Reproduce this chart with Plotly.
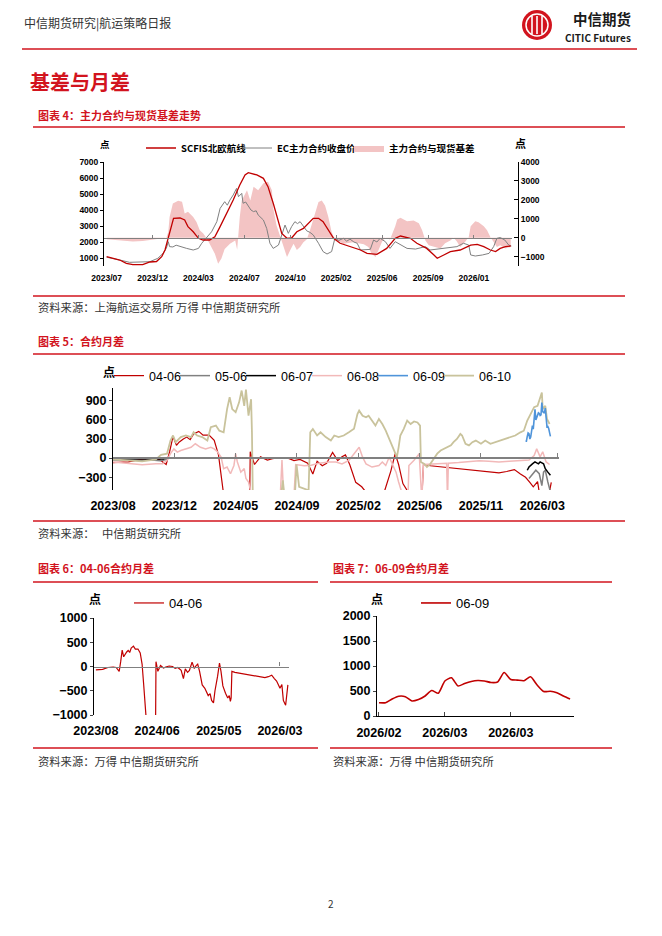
import plotly.graph_objects as go

W, H = 662, 936
OFF = 8  # the page body has an 8px margin, so paper starts 8px in


def px(x):
    return (x - OFF) / W


def py(y):
    return 1 - (y - OFF) / H


CJK = "Noto Sans CJK SC"
NUM = "Liberation Sans"
RED = "#D2141E"
DARK_RED = "#C00000"

# ---------------- 图表4 数据 (x = 交易日序号) ----------------
c4_tickvals = [0, 70, 140, 210, 280, 350, 420, 490, 560]
c4_ticktext = ["2023/07", "2023/12", "2024/03", "2024/07", "2024/10",
               "2025/02", "2025/06", "2025/09", "2026/01"]

scfis = [(0, 1080), (20, 875), (30, 670), (40, 580), (55, 580), (66, 750), (76, 780),
         (84, 1080), (89, 1500), (94, 2230), (99, 3060), (102, 3480), (112, 3500),
         (119, 3375), (124, 2960), (132, 2640), (140, 2230), (147, 2125), (157, 2125),
         (165, 2330), (173, 2960), (183, 3790), (193, 4625), (203, 5560), (211, 6190),
         (216, 6330), (229, 6190), (239, 5980), (246, 5460), (254, 4420), (262, 3270),
         (267, 2540), (275, 2230), (282, 2250), (290, 2640), (300, 2850), (315, 3480),
         (323, 3480), (330, 3270), (338, 2750), (346, 2230), (356, 1920), (371, 1710),
         (387, 1500), (397, 1290), (412, 1230), (427, 1600), (440, 2230), (448, 2375),
         (463, 2230), (473, 1920), (488, 1600), (499, 1190), (504, 980), (514, 1190),
         (524, 1400), (539, 1500), (555, 1810), (565, 1850), (575, 1710), (585, 1500),
         (593, 1400), (600, 1600), (608, 1710), (616, 1750)]

ec_main = [(0, 1050), (10, 980), (20, 875), (35, 730), (50, 770), (66, 770), (78, 980),
           (86, 1290), (91, 1600), (94, 2020), (96, 1710), (101, 1690), (106, 1800),
           (112, 1710), (117, 1650), (122, 1600), (132, 1500), (140, 1600), (145, 1920),
           (152, 2230), (160, 2640), (168, 3270), (173, 4100), (180, 4520), (184, 4300),
           (188, 4625), (193, 4940), (198, 5350), (201, 4830), (206, 5040), (208, 4420),
           (212, 4500), (216, 4210), (220, 4000), (224, 3900), (228, 3950), (231, 3690),
           (235, 3550), (239, 3375), (244, 2850), (249, 1920), (254, 1600), (262, 1810),
           (267, 2440), (272, 3060), (277, 2540), (282, 2960), (287, 3270), (291, 3150),
           (295, 3270), (300, 2960), (305, 2700), (310, 2600), (315, 2440), (323, 1920),
           (330, 1400), (336, 1250), (343, 1400), (348, 2230), (354, 2100), (361, 2230),
           (366, 2050), (371, 2180), (377, 2000), (382, 1920), (387, 1500), (402, 1540),
           (407, 2125), (412, 2000), (417, 2230), (425, 2020), (432, 1600), (440, 2020),
           (448, 1810), (458, 1600), (471, 1560), (486, 1710), (493, 1500), (503, 1550),
           (514, 1600), (524, 1650), (534, 1710), (544, 1920), (552, 1810), (555, 1190),
           (562, 1125), (573, 1190), (583, 1290), (590, 1710), (595, 2230), (600, 2280),
           (607, 2125), (613, 1810), (617, 1750)]

basis = [(0, -80), (20, -150), (40, -200), (55, -180), (66, -120), (76, -60), (84, -20),
         (91, 0), (94, 300), (96, 1090), (101, 1800), (109, 1950), (115, 1900),
         (119, 1270), (124, 1370), (132, 1090), (137, 830), (142, 390), (147, 230),
         (152, 0), (157, -320), (165, -850), (170, -1380), (175, -1100), (180, -600),
         (188, -320), (196, -150), (199, -640), (203, 1090), (206, 1960), (214, 2510),
         (219, 1960), (224, 2690), (231, 2510), (239, 2870), (246, 2960), (252, 2510),
         (254, 1550), (259, 650), (264, 120), (269, -490), (275, -1030), (280, -660),
         (285, -320), (290, -660), (295, -490), (300, -250), (305, -100), (310, 390),
         (318, 1270), (323, 1890), (328, 1960), (333, 1700), (338, 1090), (343, 300),
         (348, -100), (361, -320), (376, -250), (392, -350), (399, -490), (404, -850),
         (410, -1030), (415, -660), (420, -200), (425, 0), (432, -100), (440, 600),
         (443, 960), (448, 1050), (458, 870), (468, 900), (476, 760), (481, 390),
         (486, -150), (491, -400), (499, -490), (509, -580), (516, -300), (524, -150),
         (529, 0), (534, -200), (539, -490), (547, -200), (552, 40), (555, 600),
         (562, 870), (567, 810), (575, 600), (580, 390), (585, 40), (590, -200),
         (595, -490), (600, -400), (608, -580), (616, -490)]

# ---------------- 图表5/6/7 数据 ----------------
c5_tickvals = [0, 71.5, 143, 214.5, 286, 357.5, 429, 500.5]
c5_ticktext = ["2023/08", "2023/12", "2024/05", "2024/09", "2025/02",
               "2025/06", "2025/11", "2026/03"]
c6_tickvals = [0, 163, 327, 490]
c6_ticktext = ["2023/08", "2024/06", "2025/05", "2026/03"]
c7_ticktext = ["2026/02", "2026/03", "2026/03"]

s0406 = [(0, -70), (18, -60), (32, -20), (46, -10), (54, -20), (62, -100), (66, 100),
         (70, 340), (74, 200), (77, 250), (82, 300), (86, 330), (90, 290), (94, 380),
         (100, 420), (105, 360), (112, 360), (118, 280), (123, 50), (127, -350),
         (132, -800), (134, -1050), (136, -1300), (157, -1300), (159, -1050), (160, 100),
         (165, -100), (172, 20), (180, -30), (186, -10), (195, 10), (204, 0), (211, -40),
         (218, -20), (227, -80), (233, -250), (238, -50), (244, -120), (249, -80),
         (256, 90), (262, -40), (267, 20), (271, 50), (276, -100), (283, -380),
         (290, -450), (295, -520), (299, -600), (304, -560), (308, -700), (313, -750),
         (317, -500), (324, -200), (329, 70), (333, -100), (338, -400), (345, -550),
         (351, -650), (355, -600), (358, -720), (360, -650), (362, -100), (370, -120),
         (377, -130), (390, -150), (404, -170), (418, -190), (431, -200), (440, -220),
         (450, -230), (459, -210), (468, -180), (475, -250), (481, -300), (486, -380),
         (490, -450), (495, -370), (499, -700), (505, -800), (511, -380)]

s0506 = [(0, -30), (15, -25), (30, -35), (45, -30), (55, -40), (63, -20), (64, None),
         (485, -320), (489, -245), (493, -190), (497, -245), (500, -430), (502, -220),
         (504, -190), (507, -375), (510, -530)]

s0607 = [(0, -10), (20, -15), (40, -20), (60, -15), (61, None),
         (483, -190), (485, -140), (489, -90), (492, -60), (496, -90), (498, -60),
         (502, -90), (504, -165), (507, -220), (510, -270)]

s0608 = [(0, -60), (19, -90), (34, -105), (50, -90), (58, -90), (63, -35), (67, 70),
         (71, 145), (75, 95), (79, 120), (85, 145), (91, 170), (96, 225), (102, 170),
         (108, 145), (114, 170), (118, 145), (122, 95), (126, 15), (129, -165),
         (133, -140), (137, -245), (141, -115), (143, 70), (145, -60), (149, -220),
         (153, -165), (155, -320), (158, -375), (161, -530), (163, -650), (193, -650),
         (195, -600), (197, -30), (199, -600), (211, -600), (213, -100), (223, -120),
         (231, -110), (240, -80), (252, -60), (260, -60), (267, -90), (275, -35),
         (281, 70), (287, 170), (291, 15), (295, -90), (302, -140), (310, -115),
         (314, -60), (318, -115), (322, 15), (326, -90), (330, -220), (333, -375),
         (335, -480), (337, -550), (341, -650), (344, -600), (345, -115), (351, -35),
         (357, 70), (358.6, -650), (360, -650), (362, -100), (374, -90), (388, -80),
         (389, -80), (390, -650), (391, -80), (403, -70), (415, -50), (427, -40),
         (438, -50), (450, -60), (462, -50), (473, -40), (485, -30), (491, 40),
         (494, 145), (498, 20), (501, 100), (505, -60), (509, -100)]

s0609 = [266, 266, 340, 395, 385, 300, 330, 400, 510, 455, 700, 765, 600, 650, 690,
         710, 700, 670, 680, 870, 730, 718, 705, 784, 620, 490, 495, 465, 400, 340]
s0609_day = list(range(481, 481 + len(s0609)))

s0610 = [(0, -20), (19, -35), (34, -50), (50, -20), (56, 50), (63, 70), (67, 275),
         (70, 355), (73, 250), (79, 330), (85, 355), (91, 330), (94, 405), (98, 355),
         (104, 330), (110, 275), (114, 485), (120, 510), (124, 430), (129, 405),
         (133, 770), (136, 955), (139, 770), (143, 720), (147, 875), (150, 1060),
         (153, 820), (155, 1075), (158, 665), (161, 925), (162, 405), (163, -600),
         (196, -600), (198, -350), (200, -600), (212, -600), (214, -100), (217, -450),
         (223, -480), (227, -500), (228, -520), (230, 405), (233, 455), (238, 355),
         (242, 405), (248, 330), (254, 275), (258, 355), (263, 330), (269, 355),
         (275, 405), (281, 460), (285, 690), (287, 745), (291, 665), (295, 640),
         (298, 665), (302, 590), (306, 510), (310, 615), (314, 535), (318, 430),
         (322, 300), (326, 170), (330, 70), (331, 15), (333, 170), (335, 355),
         (339, 460), (343, 590), (347, 535), (351, 575), (355, 560), (358, 510),
         (359, -60), (363, -90), (366, -140), (370, -90), (374, -10), (378, 70),
         (382, 120), (386, 145), (390, 170), (394, 200), (397, 250), (401, 300),
         (405, 380), (407, 355), (411, 225), (415, 200), (419, 250), (423, 275),
         (429, 225), (434, 275), (440, 225), (446, 250), (452, 275), (458, 300),
         (464, 330), (469, 355), (475, 405), (479, 430), (483, 590), (487, 690),
         (491, 800), (495, 820), (497, 900), (500, 1030), (501, 770), (504, 820),
         (506, 615), (509, 535)]


def xs(pairs):
    return [p[0] for p in pairs]


def ys(pairs):
    return [p[1] for p in pairs]


fig = go.Figure()

# ---- 图表4 ----
fig.add_trace(go.Scatter(x=xs(basis), y=ys(basis), name="主力合约与现货基差",
                         mode="lines", line=dict(width=0, color="#F3C4C4"),
                         fill="tozeroy", fillcolor="#F3C4C4",
                         xaxis="x", yaxis="y", legend="legend", legendrank=3))
fig.add_trace(go.Scatter(x=xs(ec_main), y=ys(ec_main), name="EC主力合约收盘价",
                         mode="lines", line=dict(width=1, color="#808080"),
                         xaxis="x", yaxis="y2", legend="legend", legendrank=2,
                         legendwidth=67))
fig.add_trace(go.Scatter(x=xs(scfis), y=ys(scfis), name="SCFIS北欧航线",
                         mode="lines", line=dict(width=1.3, color=DARK_RED),
                         xaxis="x", yaxis="y2", legend="legend", legendrank=1,
                         legendwidth=51))

# ---- 图表5 ----
c5_series = [("04-06", s0406, DARK_RED, 1.2, 1001),
             ("05-06", s0506, "#808080", 1.5, 1002),
             ("06-07", s0607, "#000000", 1.5, 1003),
             ("06-08", s0608, "#F2B9B9", 1.5, 1004),
             ("06-10", s0610, "#C9C39C", 1.8, 1006)]
for name, data, color, width, rank in c5_series:
    fig.add_trace(go.Scatter(x=xs(data), y=ys(data), name=name, mode="lines",
                             line=dict(width=width, color=color),
                             xaxis="x3", yaxis="y3", legend="legend2",
                             legendrank=rank, legendwidth=45 if rank == 1006 else None))
fig.add_trace(go.Scatter(x=s0609_day, y=s0609, name="06-09", mode="lines",
                         line=dict(width=1.6, color="#4F94DA"),
                         xaxis="x3", yaxis="y3", legend="legend2", legendrank=1005))

# ---- 图表6 ----
fig.add_trace(go.Scatter(x=xs(s0406), y=ys(s0406), name="04-06", mode="lines",
                         line=dict(width=1.2, color=DARK_RED),
                         xaxis="x5", yaxis="y5", legend="legend3"))

# ---- 图表7 ----
fig.add_trace(go.Scatter(x=list(range(len(s0609))), y=s0609, name="06-09",
                         mode="lines", line=dict(width=1.6, color=DARK_RED,
                                                 shape="spline", smoothing=0.6),
                         xaxis="x7", yaxis="y7", legend="legend4"))

# 叠加的零线轴需要一个空 trace 来建立子图
for xa, ya in [("x2", "y"), ("x4", "y3"), ("x6", "y5")]:
    fig.add_trace(go.Scatter(x=[], y=[], xaxis=xa, yaxis=ya, showlegend=False))


def zero_pos(top, bottom, lo, hi):
    return py(bottom - (0 - lo) / (hi - lo) * (bottom - top))


tick_num = dict(family=NUM, size=8.5, color="#000000", weight="bold")
tick_big = dict(family=NUM, size=12.5, color="#000000", weight="bold")

# 版面区域 (像素)
C4 = dict(l=104, r=512, t=162, b=266)
C5 = dict(l=113, r=559, t=388, b=490)
C6 = dict(l=94, r=289, t=618, b=715)
C7 = dict(l=377, r=574, t=616, b=716)
C4_X = [-4, 618]
C5_X = [0, 520]
C6_X = [-5, 514]

axis_common = dict(showgrid=False, zeroline=False, fixedrange=True)
label_axis = dict(showline=False, ticks="outside", ticklen=4,
                  tickcolor="rgba(0,0,0,0)", **axis_common)

fig.update_layout(
    width=W, height=H,
    margin=dict(l=0, r=0, t=0, b=0, pad=0, autoexpand=False),
    paper_bgcolor="white", plot_bgcolor="rgba(0,0,0,0)",
    font=dict(family=CJK, color="#000000"),
    # 图表4
    xaxis=dict(domain=[px(C4["l"]), px(C4["r"])], range=C4_X, anchor="y",
               tickvals=c4_tickvals, ticktext=c4_ticktext, tickfont=tick_num,
               **label_axis),
    xaxis2=dict(overlaying="x", anchor="free", range=C4_X,
                position=zero_pos(C4["t"], C4["b"], -1500, 4000),
                tickvals=c4_tickvals[1:] + [617], showticklabels=False, ticks="inside",
                ticklen=3, tickcolor="#808080", showline=True, linecolor="#808080",
                linewidth=1.2, **axis_common),
    yaxis=dict(domain=[py(C4["b"]), py(C4["t"])], range=[-1500, 4000],
               side="right", anchor="free", position=px(518),
               tickvals=[-1000, 0, 1000, 2000, 3000, 4000], tickfont=tick_num,
               showline=True, linecolor="#000000", linewidth=1, ticks="inside",
               ticklen=4, tickcolor="#000000", **axis_common),
    yaxis2=dict(overlaying="y", side="left", anchor="x", range=[500, 7000],
                tickvals=[1000, 2000, 3000, 4000, 5000, 6000, 7000], tickfont=tick_num,
                showline=True, linecolor="#000000", linewidth=1, ticks="outside",
                ticklen=3, tickcolor="#000000", **axis_common),
    # 图表5
    xaxis3=dict(domain=[px(C5["l"]), px(C5["r"])], range=C5_X, anchor="y3",
                tickvals=c5_tickvals, ticktext=c5_ticktext, tickfont=tick_big,
                **label_axis),
    xaxis4=dict(overlaying="x3", anchor="free", range=C5_X,
                position=zero_pos(C5["t"], C5["b"], -500, 1100),
                tickvals=c5_tickvals[1:-1] + [518], showticklabels=False,
                ticks="inside", ticklen=4, tickcolor="#808080", showline=True,
                linecolor="#808080", linewidth=1.6, **axis_common),
    yaxis3=dict(domain=[py(C5["b"]), py(C5["t"])], range=[-500, 1100], anchor="x3",
                tickvals=[-300, 0, 300, 600, 900], tickfont=tick_big, showline=True,
                linecolor="#000000", linewidth=1, ticks="outside", ticklen=3,
                **axis_common),
    # 图表6
    xaxis5=dict(domain=[px(C6["l"]), px(C6["r"])], range=C6_X, anchor="y5",
                tickvals=c6_tickvals, ticktext=c6_ticktext, tickfont=tick_big,
                **label_axis),
    xaxis6=dict(overlaying="x5", anchor="free", range=C6_X,
                position=zero_pos(C6["t"], C6["b"], -1000, 1000),
                tickvals=[490, 512], showticklabels=False, ticks="inside", ticklen=4,
                tickcolor="#808080", showline=True, linecolor="#808080",
                linewidth=1.3, **axis_common),
    yaxis5=dict(domain=[py(C6["b"]), py(C6["t"])], range=[-1000, 1000], anchor="x5",
                tickvals=[-1000, -500, 0, 500, 1000], tickfont=tick_big,
                showline=True, linecolor="#000000", linewidth=1, ticks="outside",
                ticklen=3, **axis_common),
    # 图表7
    xaxis7=dict(domain=[px(C7["l"]), px(C7["r"])], range=[-0.3, 29.6], anchor="y7",
                tickvals=[0, 10, 20], ticktext=c7_ticktext, tickfont=tick_big,
                showline=True, linecolor="#000000", linewidth=1, ticks="inside",
                ticklen=4, ticklabelstandoff=5, **axis_common),
    yaxis7=dict(domain=[py(C7["b"]), py(C7["t"])], range=[0, 2000], anchor="x7",
                tickvals=[0, 500, 1000, 1500, 2000], tickfont=tick_big,
                showline=True, linecolor="#000000", linewidth=1, ticks="outside",
                ticklen=3, **axis_common),
    legend=dict(orientation="h", x=px(141), y=py(148), xanchor="left",
                yanchor="middle", bgcolor="rgba(0,0,0,0)", itemwidth=30,
                font=dict(family=CJK, size=9.5, weight="bold")),
    legend2=dict(orientation="h", x=px(109), y=py(376), xanchor="left",
                 yanchor="middle", bgcolor="rgba(0,0,0,0)", itemwidth=30,
                 entrywidth=21, font=dict(family=NUM, size=12.5)),
    legend3=dict(orientation="h", x=px(129), y=py(603), xanchor="left",
                 yanchor="middle", bgcolor="rgba(0,0,0,0)", itemwidth=30,
                 font=dict(family=NUM, size=13)),
    legend4=dict(orientation="h", x=px(416), y=py(603), xanchor="left",
                 yanchor="middle", bgcolor="rgba(0,0,0,0)", itemwidth=30,
                 font=dict(family=NUM, size=13)),
)

# ---------------- 文本 ----------------
SRC = 11.3
texts = [
    ("中信期货研究|航运策略日报", 22, 23, 12, "#333333", "normal", "left"),
    ("中信期货", 633, 18.5, 14.5, "#1a1a1a", "bold", "right"),
    ("CITIC Futures", 633, 38, 10, "#1a1a1a", "bold", "right"),
    ("基差与月差", 28, 82, 20, RED, "bold", "left"),
    ("图表 4：主力合约与现货基差走势", 36, 115, 11, RED, "bold", "left"),
    ("资料来源：上海航运交易所 万得 中信期货研究所", 36, 307, SRC, "#333333", "normal", "left"),
    ("图表 5：合约月差", 36, 341, 11, RED, "bold", "left"),
    ("资料来源：   中信期货研究所", 36, 533, SRC, "#333333", "normal", "left"),
    ("图表 6：04-06合约月差", 36, 568, 11, RED, "bold", "left"),
    ("资料来源：万得 中信期货研究所", 36, 761, SRC, "#333333", "normal", "left"),
    ("图表 7：06-09合约月差", 331, 568, 11, RED, "bold", "left"),
    ("资料来源：万得 中信期货研究所", 331, 761, SRC, "#333333", "normal", "left"),
    ("点", 105, 144, 9.5, "#000000", "bold", "center"),
    ("点", 520, 143, 11, "#000000", "bold", "center"),
    ("点", 109, 372, 12, "#000000", "bold", "center"),
    ("点", 95, 598, 12, "#000000", "bold", "center"),
    ("点", 377, 598, 12, "#000000", "bold", "center"),
    ("2", 331, 903, 10, "#333333", "normal", "center"),
]
for txt, x, y, size, color, weight, anchor in texts:
    fig.add_annotation(text=txt, x=px(x), y=py(y), xref="paper", yref="paper",
                       xanchor=anchor, yanchor="middle", showarrow=False,
                       font=dict(family=CJK, size=size, color=color, weight=weight))

# ---------------- 线条与标志 ----------------
rules = [(22, 637, 49, 1.6), (33, 625, 127, 1.3), (33, 625, 296, 1.3),
         (33, 625, 354, 1.3), (33, 625, 521, 1.3), (33, 318, 582, 1.3),
         (33, 318, 748, 1.3), (330, 612, 582, 1.3), (330, 612, 748, 1.3)]
for x0, x1, y, w in rules:
    fig.add_shape(type="line", xref="paper", yref="paper", x0=px(x0), x1=px(x1),
                  y0=py(y), y1=py(y), line=dict(color=RED, width=w))

# CITIC 标志 (简化)
fig.add_shape(type="circle", xref="paper", yref="paper", x0=px(522), x1=px(552),
              y0=py(40), y1=py(10), fillcolor=RED, line=dict(color=RED, width=0))
fig.add_shape(type="circle", xref="paper", yref="paper", x0=px(526), x1=px(548),
              y0=py(36), y1=py(14), fillcolor="rgba(0,0,0,0)",
              line=dict(color="white", width=1.5))
for lx in [532, 537, 542]:
    fig.add_shape(type="line", xref="paper", yref="paper", x0=px(lx), x1=px(lx),
                  y0=py(34), y1=py(16), line=dict(color="white", width=1.6))

fig.write_html("out.html")
